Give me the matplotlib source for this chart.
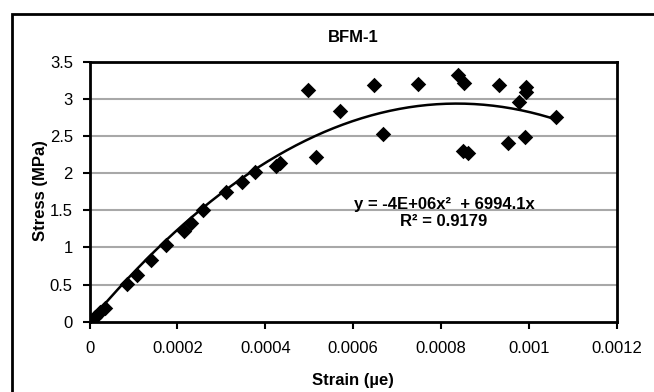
import numpy as np
import matplotlib
matplotlib.use("Agg")
import matplotlib.pyplot as plt
from matplotlib.patches import Rectangle

plt.rcParams['font.family'] = ['Liberation Sans', 'DejaVu Sans']

# strain / stress readings for BFM-1
strain = [0.0, 0.000005, 0.0000125, 0.000024, 0.000035, 0.0000845, 0.000107,
          0.000141, 0.000174, 0.000215, 0.000231, 0.000259, 0.00031, 0.000347,
          0.000376, 0.000425, 0.000433, 0.000497, 0.000515, 0.000569, 0.000648,
          0.000668, 0.000747, 0.000838, 0.00085, 0.000852, 0.000861, 0.000931,
          0.000953, 0.000978, 0.000991, 0.000994, 0.000994, 0.001062]
stress = [0.0, 0.02, 0.067, 0.135, 0.18, 0.503, 0.63,
          0.83, 1.032, 1.225, 1.333, 1.504, 1.75, 1.885,
          2.02, 2.096, 2.13, 3.12, 2.22, 2.836, 3.19,
          2.527, 3.2, 3.32, 2.298, 3.217, 2.275, 3.186,
          2.40, 2.953, 2.48, 3.155, 3.096, 2.76]

xticks = [0, 0.0002, 0.0004, 0.0006, 0.0008, 0.001, 0.0012]
xticklabels = ['0', '0.0002', '0.0004', '0.0006', '0.0008', '0.001', '0.0012']
yticks = [0, 0.5, 1, 1.5, 2, 2.5, 3, 3.5]
yticklabels = ['0', '0.5', '1', '1.5', '2', '2.5', '3', '3.5']

title = 'BFM-1'
xlabel = 'Strain (µe)'
ylabel = 'Stress (MPa)'
eq_text = 'y = -4E+06x²  + 6994.1x\nR² = 0.9179'

# polynomial trendline (order 2, through origin) like Excel
x = np.array(strain)
y = np.array(stress)
A = np.column_stack([x ** 2, x])
coef = np.linalg.lstsq(A, y, rcond=None)[0]
xf = np.linspace(0, x.max(), 200)
yf = coef[0] * xf ** 2 + coef[1] * xf

W, H = 654, 392
fig = plt.figure(figsize=(W / 100, H / 100), dpi=100)
fig.patch.set_facecolor('white')

# outer chart border (cut off on right/bottom like the source)
fig.patches.append(Rectangle((12 / W, -0.05), 1.1, (H - 14) / H + 0.05,
                             transform=fig.transFigure, fill=False,
                             edgecolor='black', linewidth=2))

ax = fig.add_axes([89.5 / W, (H - 321.7) / H, (617 - 89.5) / W, (321.7 - 61.7) / H])
ax.set_xlim(0, 0.0012)
ax.set_ylim(0, 3.5)

for v in yticks[1:-1]:
    ax.axhline(v, color='#a8a8a8', linewidth=1.5, zorder=0)

ax.plot(xf, yf, color='black', linewidth=1.8, zorder=2)
ax.scatter(strain, stress, marker='D', s=62, color='black', zorder=3, linewidths=0)

ax.set_xticks(xticks)
ax.set_xticklabels(xticklabels)
ax.set_yticks(yticks)
ax.set_yticklabels(yticklabels)
ax.tick_params(direction='out', length=5, width=1.5, labelsize=12)
ax.tick_params(axis='x', pad=9)
ax.tick_params(axis='y', pad=7)

for s in ax.spines.values():
    s.set_linewidth(2)
    s.set_color('black')

fig.text(353 / W, 1 - 38 / H, title, ha='center', va='center',
         fontsize=12, fontweight='bold')
fig.text(353 / W, 1 - 381 / H, xlabel, ha='center', va='center',
         fontsize=12, fontweight='bold')
fig.text(41 / W, 1 - 191 / H, ylabel, ha='center', va='center',
         fontsize=12, fontweight='bold', rotation=90)

fig.text(444 / W, 1 - 213 / H, eq_text, ha='center', va='center',
         fontsize=12, fontweight='bold', multialignment='center',
         linespacing=1.2)

fig.savefig('out.png', dpi=100)
